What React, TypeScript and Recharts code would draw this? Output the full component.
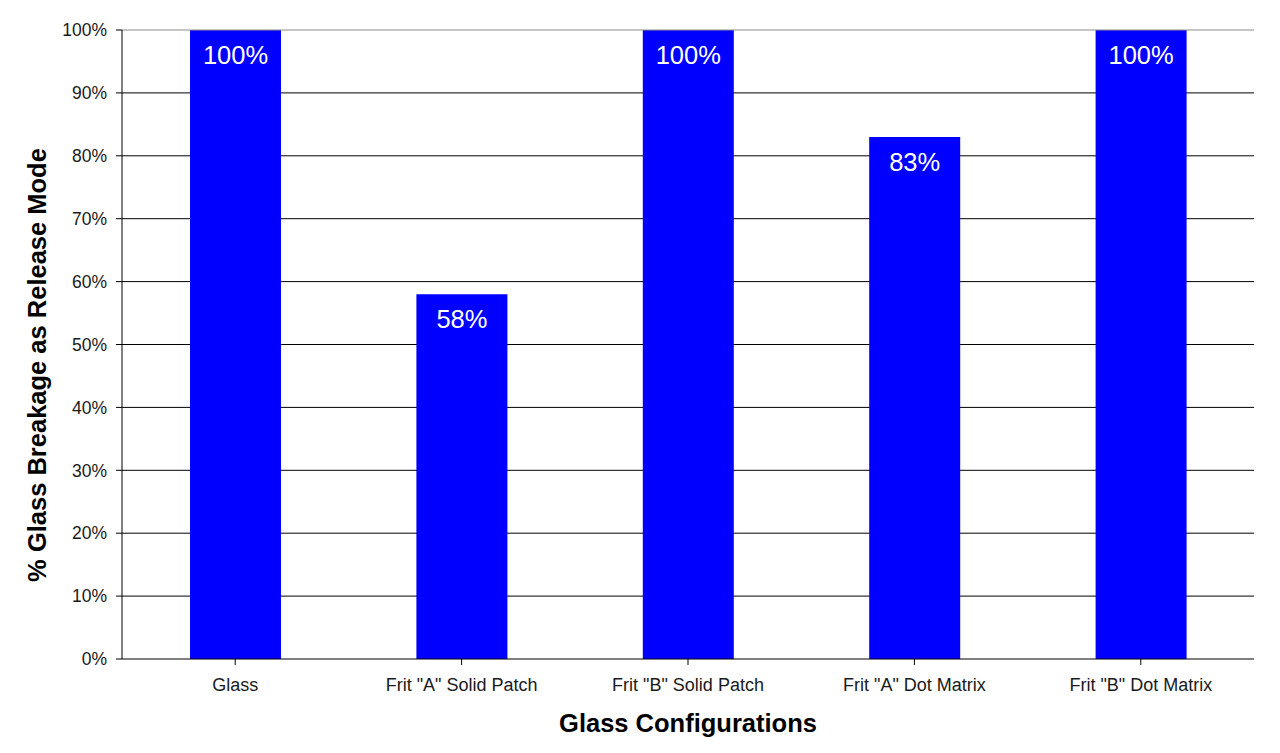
import React from "react";
import { BarChart, Bar, XAxis, YAxis, CartesianGrid, LabelList, Label, ReferenceLine } from "recharts";

const categories = ['Glass', 'Frit "A" Solid Patch', 'Frit "B" Solid Patch', 'Frit "A" Dot Matrix', 'Frit "B" Dot Matrix'];
const breakage = [100, 58, 100, 83, 100];
const yTicks = [0, 10, 20, 30, 40, 50, 60, 70, 80, 90, 100];

const data = categories.map((name, i) => ({ name, value: breakage[i] }));

const FONT = '"Liberation Sans", Arial, sans-serif';
const Y_TITLE = "% Glass Breakage as Release Mode";

const YTitle = () => (
  <text
    x={37}
    y={365}
    transform="rotate(-90 37 365)"
    textAnchor="middle"
    dominantBaseline="central"
    style={{ fontSize: 25.5, fontWeight: "bold", fill: "#000", fontFamily: FONT }}
  >
    {Y_TITLE}
  </text>
);

export default function App() {
  return (
    <div style={{ position: "absolute", left: 0, top: 0, width: 1280, height: 753, background: "#fff", fontFamily: FONT }}>
      <BarChart width={1280} height={753} data={data} margin={{ top: 30, right: 26, left: 0, bottom: 0 }}>
        <CartesianGrid vertical={false} stroke="#000" horizontalValues={[10, 20, 30, 40, 50, 60, 70, 80, 90]} />
        <ReferenceLine y={100} stroke="#8c8c8c" />
        <XAxis
          dataKey="name"
          height={94}
          stroke="#000"
          tickLine={{ stroke: "#000" }}
          tickSize={6}
          interval={0}
          tick={{ fill: "#1a1a1a", fontSize: 18, fontFamily: FONT }}
          tickMargin={13}
        >
          <Label value="Glass Configurations" position="insideBottom" offset={21} style={{ fontSize: 25.5, fontWeight: "bold", fill: "#000", fontFamily: FONT }} />
        </XAxis>
        <YAxis
          width={122}
          domain={[0, 100]}
          ticks={yTicks}
          tickFormatter={(v) => `${v}%`}
          stroke="#000"
          tickSize={6}
          tickMargin={9}
          tick={{ fill: "#1a1a1a", fontSize: 17.5, fontFamily: FONT }}
          interval={0}
        >
          <Label value={Y_TITLE} content={<YTitle />} />
        </YAxis>
        <YAxis yAxisId="right" orientation="right" width={0} stroke="#8c8c8c" tick={false} tickLine={false} domain={[0, 100]} />
        <Bar dataKey="value" fill="#0000FF" barSize={91} isAnimationActive={false}>
          <LabelList dataKey="value" position="insideTop" offset={16} formatter={(v) => `${v}%`} style={{ fill: "#fff", fontSize: 25.5, fontFamily: FONT }} />
        </Bar>
      </BarChart>
    </div>
  );
}
